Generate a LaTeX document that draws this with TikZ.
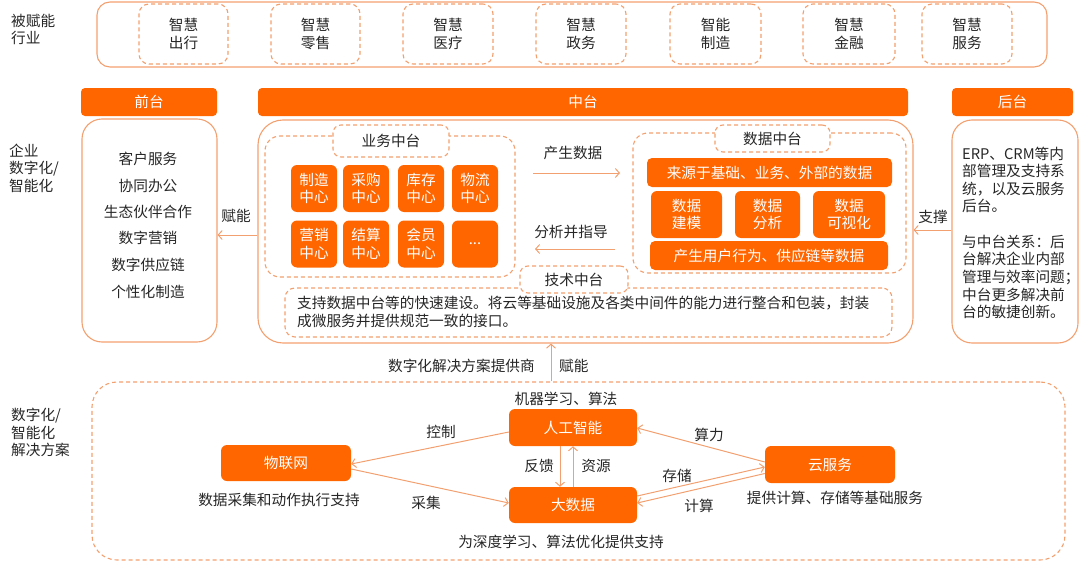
\documentclass[tikz,border=0pt]{standalone}
\usepackage{fontspec}
\setmainfont{Noto Sans CJK SC}
\usetikzlibrary{arrows.meta,calc}
\definecolor{org}{RGB}{255,102,0}
\definecolor{ln}{RGB}{242,160,112}
\definecolor{tx}{RGB}{38,38,38}
\newcommand\fs{\fontsize{14.67}{17.6}\selectfont}
\tikzset{
 every node/.style={font=\fs, text=tx, inner sep=0pt},
 obox/.style={fill=org, text=white, rounded corners=5pt, align=center},
 fr/.style={draw=ln, line width=1.1pt, rounded corners=#1},
 fr/.default=20pt,
 dbox/.style={draw=ln, line width=1.1pt, dash pattern=on 4pt off 3pt, rounded corners=#1, fill=white},
 dbox/.default=10pt,
 arr/.style={draw=ln, line width=1pt, -{Straight Barb[length=4pt,width=9pt]}},
 side/.style={align=left, anchor=west},
 ind/.style={dbox=10pt, minimum height=60pt, align=center},
}
\begin{document}
\begin{tikzpicture}[x=1pt,y=-1pt]
\useasboundingbox (0,0) rectangle (1080,562);

% ---------- top row: industries ----------
\node[side] (lab1) at (11,29.5) {被赋能\\行业};
\node[fr=13pt, minimum width=950pt, minimum height=65pt] (top) at (572,34.5) {};
\node[ind, minimum width=89pt] (i1) at (183.5,34) {智慧\\出行};
\node[ind, minimum width=89pt] (i2) at (315.5,34) {智慧\\零售};
\node[ind, minimum width=90pt] (i3) at (448,34) {智慧\\医疗};
\node[ind, minimum width=90pt] (i4) at (581,34) {智慧\\政务};
\node[ind, minimum width=91pt] (i5) at (715.5,34) {智能\\制造};
\node[ind, minimum width=92pt] (i6) at (849,34) {智慧\\金融};
\node[ind, minimum width=90pt] (i7) at (967,34) {智慧\\服务};

% ---------- header bars ----------
\node[obox, rounded corners=4pt, minimum width=136pt, minimum height=28pt] (hq) at (149,102) {前台};
\node[obox, rounded corners=4pt, minimum width=650pt, minimum height=28pt] (hz) at (583,102) {中台};
\node[obox, rounded corners=4pt, minimum width=121pt, minimum height=28pt] (hh) at (1012.5,102) {后台};

% ---------- enterprise row ----------
\node[side] (lab2) at (9,168) {企业\\数字化/\\智能化};

% front office
\node[fr=20pt, minimum width=135pt, minimum height=223pt] (qian) at (149.5,230.5) {};
\node (q1) at (148,159) {客户服务};
\node (q2) at (148,186) {协同办公};
\node (q3) at (148,212) {生态伙伴合作};
\node (q4) at (148,238) {数字营销};
\node (q5) at (148,265) {数字供应链};
\node (q6) at (148,292) {个性化制造};

% middle office
\node[fr=25pt, minimum width=655pt, minimum height=223pt] (zhong) at (585.5,231.5) {};

% business middle office
\node[dbox=15pt, minimum width=250pt, minimum height=141pt] (yw) at (390,206.5) {};
\node[dbox=8pt, minimum width=116pt, minimum height=32pt] (ywl) at (391,141) {业务中台};
\tikzset{cell/.style={obox, rounded corners=6pt, minimum width=46pt, minimum height=47pt}}
\node[cell] (c1) at (314,188.5) {制造\\中心};
\node[cell] (c2) at (366,188.5) {采购\\中心};
\node[cell] (c3) at (421,188.5) {库存\\中心};
\node[cell] (c4) at (475,188.5) {物流\\中心};
\node[cell] (c5) at (314,244) {营销\\中心};
\node[cell] (c6) at (366,244) {结算\\中心};
\node[cell] (c7) at (421,244) {会员\\中心};
\node[cell] (c8) at (475,244) {...};

% data middle office
\node[dbox=15pt, minimum width=273pt, minimum height=140pt] (sj) at (769.5,203) {};
\node[dbox=8pt, minimum width=115pt, minimum height=27pt] (sjl) at (772.5,138.5) {数据中台};
\node[obox, minimum width=245pt, minimum height=29pt] (s1) at (769.5,172.5) {来源于基础、业务、外部的数据};
\node[obox, rounded corners=6pt, minimum width=71pt, minimum height=47pt] (s2) at (686.5,214.5) {数据\\建模};
\node[obox, rounded corners=6pt, minimum width=65pt, minimum height=47pt] (s3) at (767.5,214.5) {数据\\分析};
\node[obox, rounded corners=6pt, minimum width=72pt, minimum height=47pt] (s4) at (849,214.5) {数据\\可视化};
\node[obox, minimum width=238pt, minimum height=29pt] (s5) at (769,255.5) {产生用户行为、供应链等数据};

% arrows between business and data
\coordinate (p1) at (533,173); \coordinate (p2) at (620,173);
\coordinate (f1) at (615,249); \coordinate (f2) at (535,249);
\draw[arr] (p1) -- (p2);
\draw[arr] (f1) -- (f2);
\node (pl) at (573,153) {产生数据};
\node (fl) at (571,232) {分析并指导};

% technology middle office
\node[dbox=10pt, minimum width=607pt, minimum height=49pt] (js) at (588.5,312.5) {};
\node[dbox=8pt, minimum width=108pt, minimum height=27pt] (jsl) at (574,279.5) {技术中台};
\node[side] (jst) at (297,312) {支持数据中台等的快速建设。将云等基础设施及各类中间件的能力进行整合和包装，封装\\成微服务并提供规范一致的接口。};

% 赋能 to front
\coordinate (fy) at (0,235);
\draw[arr] (zhong.west |- fy) -- (qian.east |- fy);
\node (fnl) at (236,216) {赋能};

% back office
\node[fr=20pt, minimum width=126pt, minimum height=223pt] (hou) at (1015,231.5) {};
\node[side] (h1) at (962,180) {ERP、CRM等内\\部管理及支持系\\统，以及云服务\\后台。};
\node[side] (h2) at (962,277) {与中台关系：后\\台解决企业内部\\管理与效率问题；\\中台更多解决前\\台的敏捷创新。};
\coordinate (zy) at (0,230);
\draw[arr] (hou.west |- zy) -- (zhong.east |- zy);
\node (zcl) at (933,217) {支撑};

% ---------- solutions row ----------
\node[side] (lab3) at (11,432.5) {数字化/\\智能化\\解决方案};
\node[dbox=25pt, fill=none, minimum width=973pt, minimum height=178pt] (sol) at (578.5,471) {};
\coordinate (fx) at (551,0);
\draw[arr] (sol.north -| fx) -- (zhong.south -| fx);
\node[anchor=east] (prov) at (535,366) {数字化解决方案提供商};
\node[anchor=west] (fn2) at (559,366) {赋能};

\tikzset{big/.style={obox, rounded corners=6pt}}
\node[big, minimum width=128pt, minimum height=37pt] (ai) at (573,427.5) {人工智能};
\node[big, minimum width=128pt, minimum height=36pt] (dsj) at (573,505) {大数据};
\node[big, minimum width=130pt, minimum height=36pt] (wl) at (286,463) {物联网};
\node[big, minimum width=130pt, minimum height=37pt] (yun) at (830,464.5) {云服务};

\node (t1) at (566,399) {机器学习、算法};
\node (t2) at (279,500) {数据采集和动作执行支持};
\node (t3) at (561,542) {为深度学习、算法优化提供支持};
\node (t4) at (835,498) {提供计算、存储等基础服务};

\draw[arr] ($(ai.west)+(0,4.5)$) -- ($(wl.east)+(0,1)$);
\draw[arr] ($(wl.east)+(0,6)$) -- ($(dsj.west)+(0,-2)$);
\draw[arr] ($(ai.south)+(-13,0)$) -- ($(dsj.north)+(-13,0)$);
\draw[arr] (dsj.north) -- (ai.south);
\draw[arr] ($(yun.west)+(0,-2.5)$) -- ($(ai.east)+(0,0.5)$);
\draw[arr] ($(dsj.east)+(0,-9)$) -- ($(yun.west)+(0,2.5)$);
\draw[arr] ($(yun.west)+(0,9)$) -- ($(dsj.east)+(0,-2)$);

\node (k1) at (441,432) {控制};
\node (k2) at (426,503) {采集};
\node (k3) at (539,466) {反馈};
\node (k4) at (596,466) {资源};
\node (k5) at (709,435) {算力};
\node (k6) at (677,476) {存储};
\node (k7) at (699,506) {计算};
\end{tikzpicture}
\end{document}
